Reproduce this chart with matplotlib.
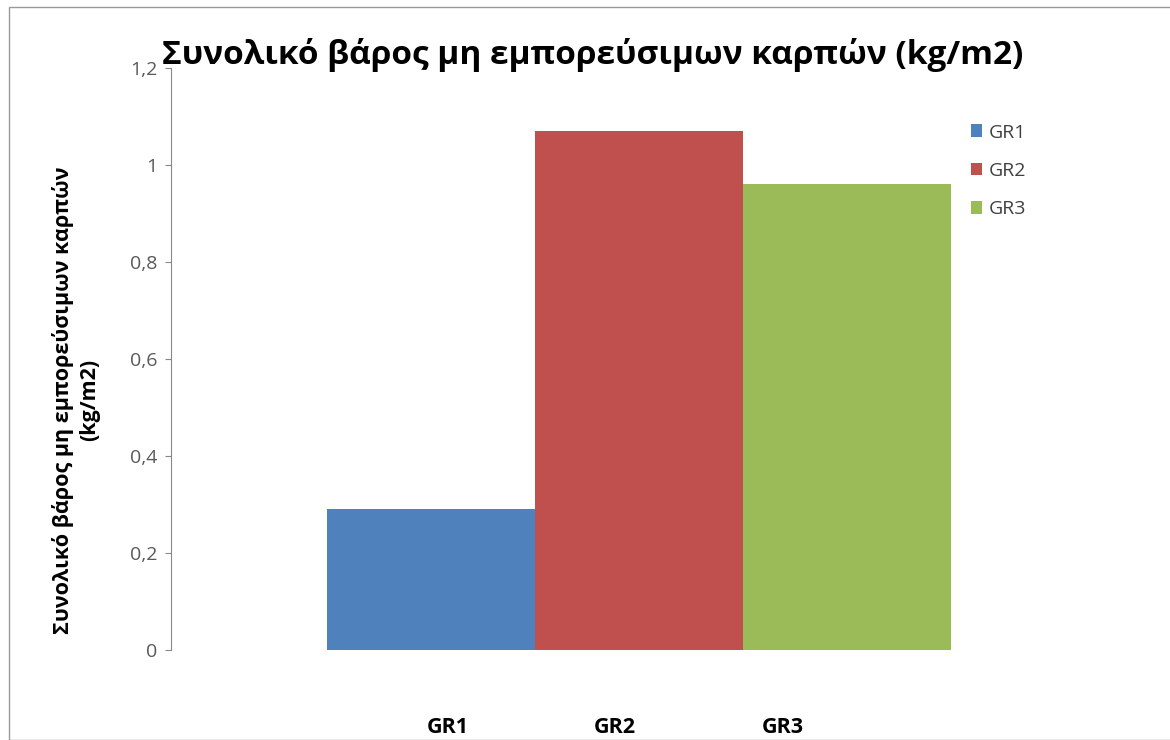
import matplotlib.pyplot as plt
from matplotlib.patches import Rectangle

plt.rcParams['font.family'] = ['Open Sans', 'DejaVu Sans']

groups = ["GR1", "GR2", "GR3"]
values = [0.29, 1.07, 0.96]
colors = ["#4F81BD", "#C0504D", "#9BBB59"]
y_ticks = [0, 0.2, 0.4, 0.6, 0.8, 1.0, 1.2]
y_tick_labels = ["0", "0,2", "0,4", "0,6", "0,8", "1", "1,2"]
x_label_pos = [0.08, 0.885, 1.69]  # category labels sit off-centre in the original

title = "Συνολικό βάρος μη εμπορεύσιμων καρπών (kg/m2)"
ylabel = "Συνολικό βάρος μη εμπορεύσιμων καρπών\n(kg/m2)"

W, H = 1170, 740
fig = plt.figure(figsize=(W / 100, H / 100), dpi=100)
ax = fig.add_axes([171 / W, 1 - 650 / H, (1107 - 171) / W, (650 - 68) / H])

handles = []
for i, (g, v, c) in enumerate(zip(groups, values, colors)):
    b = ax.bar(i, v, width=1.0, color=c, label=g, zorder=2)
    handles.append(b)

ax.set_xlim(-1.25, 3.25)
ax.set_ylim(0, 1.2)
ax.set_yticks(y_ticks)
ax.set_yticklabels(y_tick_labels, color="#595959", fontsize=14)
ax.tick_params(axis="y", direction="out", length=4, color="#888888", pad=6)

ax.set_xticks(x_label_pos)
ax.set_xticklabels(groups, fontsize=15.5, fontweight="bold")
ax.tick_params(axis="x", length=0, pad=48)

for s in ["top", "right", "bottom"]:
    ax.spines[s].set_visible(False)
ax.spines["left"].set_color("#888888")

fig.text(76 / W, 1 - 400 / H, ylabel, ha="center", va="center", rotation=90,
         fontsize=15.5, fontweight="bold", linespacing=1.3, multialignment="center")

fig.text(593 / W, 1 - 55 / H, title, ha="center", va="center",
         fontsize=24, fontweight="bold")

leg = fig.legend(handles=handles, labels=groups, loc="upper left",
                 bbox_to_anchor=(953 / W, 1 - 106 / H), frameon=False,
                 fontsize=14, handlelength=0.6, handleheight=0.6,
                 handletextpad=0.35, labelspacing=1.05, labelcolor="#404040")

fig.patches.append(Rectangle((9 / W, 0), 1.5, 1 - 7 / H, transform=fig.transFigure,
                             fill=False, edgecolor="#999999", linewidth=1))

fig.savefig("out.png", dpi=100)
